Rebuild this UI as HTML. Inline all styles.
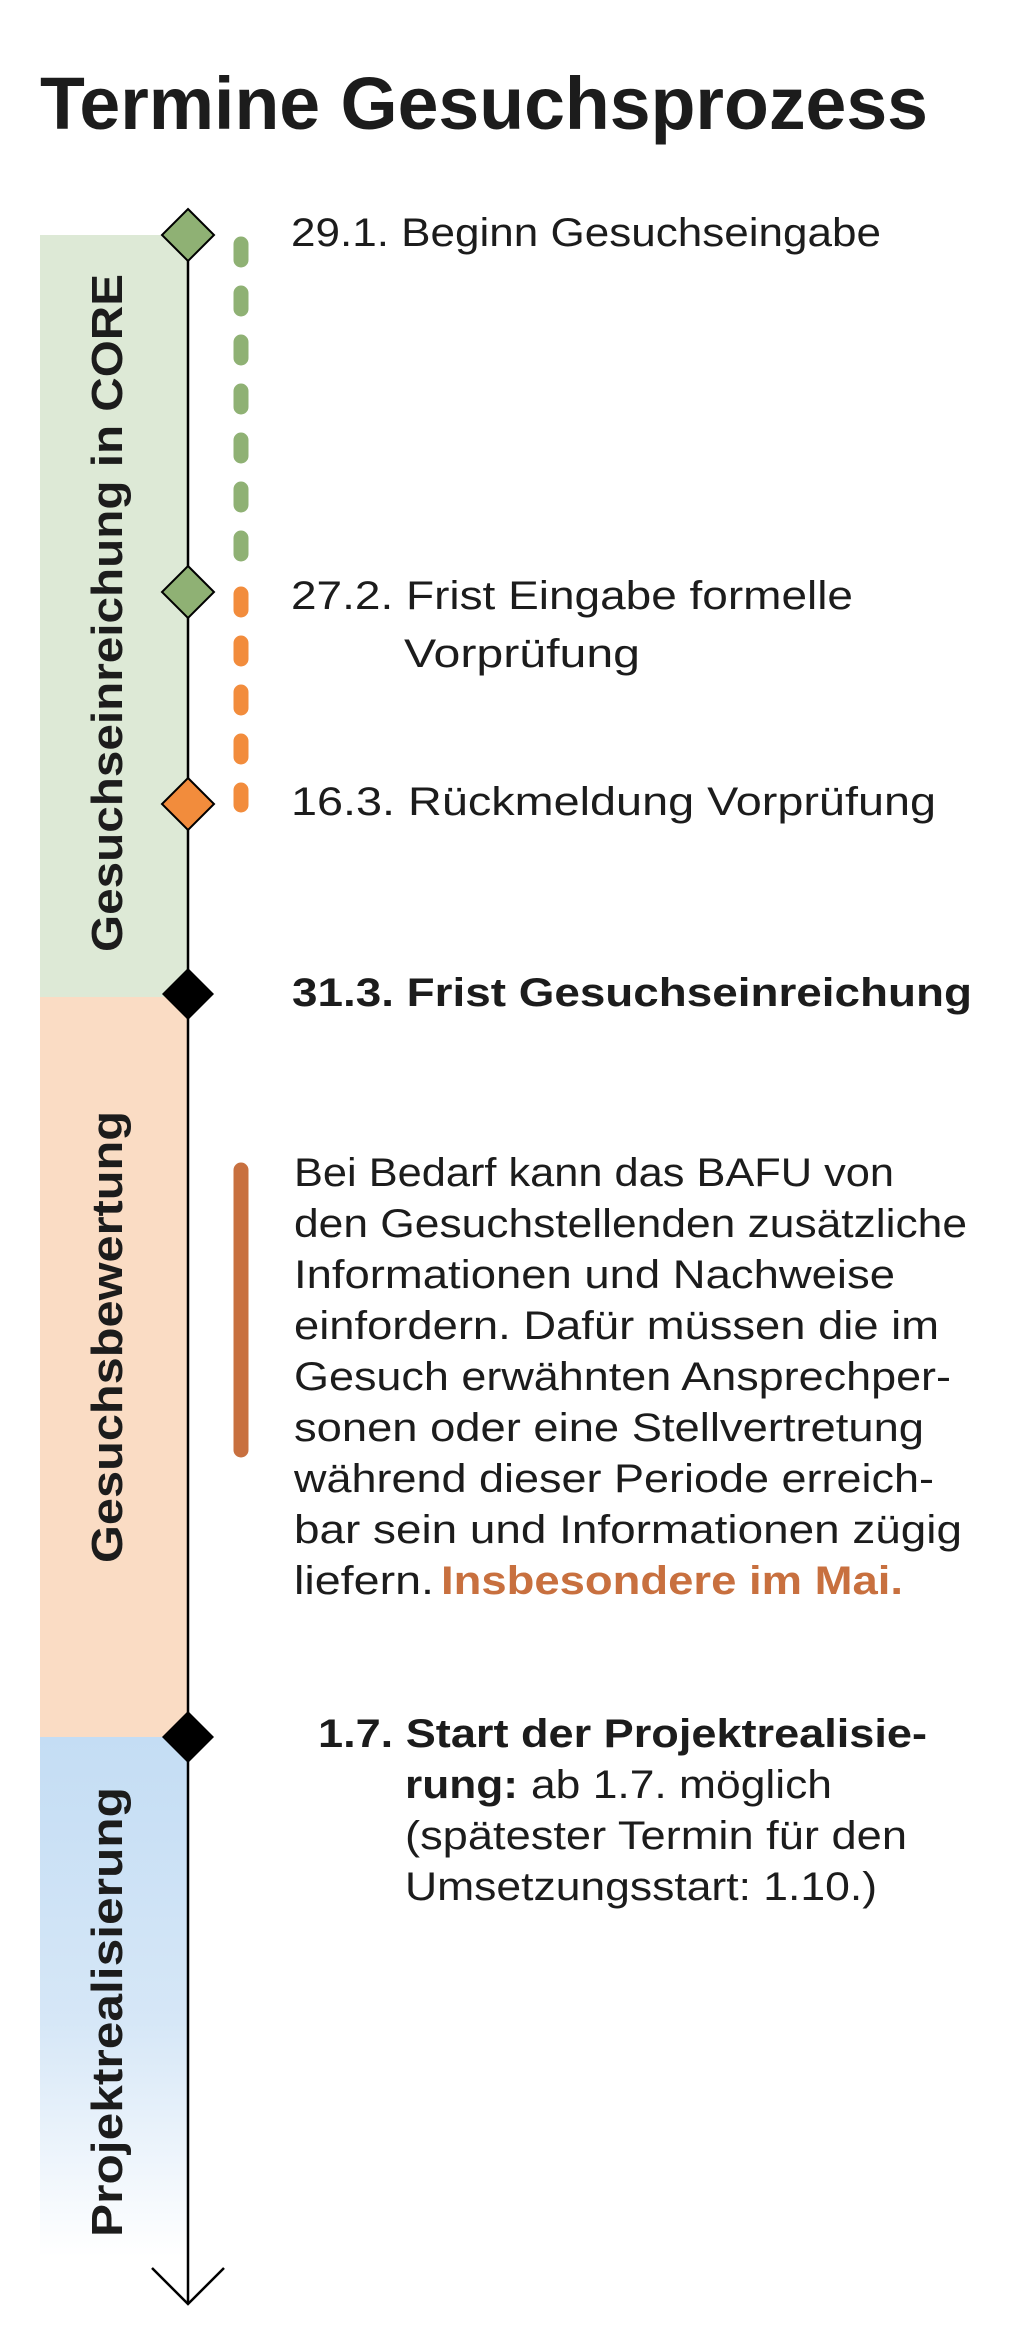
<!DOCTYPE html>
<html><head><meta charset="utf-8"><style>
html,body{margin:0;padding:0;background:#fff}
svg{display:block}
text{font-family:"Liberation Sans","DejaVu Sans",sans-serif;fill:#1c1c1c}
</style></head><body>
<svg width="1024" height="2339" viewBox="0 0 1024 2339" xmlns="http://www.w3.org/2000/svg">
<defs>
<linearGradient id="bl" x1="0" y1="0" x2="0" y2="1">
<stop offset="0" stop-color="#c4ddf4"/><stop offset="0.55" stop-color="#d6e7f7"/><stop offset="1" stop-color="#ffffff"/>
</linearGradient>
</defs>
<text x="40" y="129" font-size="74" font-weight="bold" textLength="888" lengthAdjust="spacingAndGlyphs">Termine Gesuchsprozess</text>

<rect x="40" y="235" width="148" height="762" fill="#dde9d6"/>
<rect x="40" y="997" width="148" height="740" fill="#fadcc4"/>
<rect x="40" y="1737" width="148" height="520" fill="url(#bl)"/>

<line x1="188" y1="235" x2="188" y2="2303" stroke="#000" stroke-width="2.5"/>
<polyline points="152,2268 188,2304 224,2268" fill="none" stroke="#000" stroke-width="2.5"/>

<line x1="241" y1="244" x2="241" y2="586" stroke="#8fb174" stroke-width="15" stroke-linecap="round" stroke-dasharray="16 33"/>
<line x1="241" y1="594" x2="241" y2="805" stroke="#f28c3c" stroke-width="15" stroke-linecap="round" stroke-dasharray="16 33"/>
<line x1="241" y1="1170" x2="241" y2="1450" stroke="#c8703f" stroke-width="15" stroke-linecap="round"/>

<polygon points="188,209 214,235 188,261 162,235" fill="#8fb174" stroke="#000" stroke-width="2"/>
<polygon points="188,566 214,592 188,618 162,592" fill="#8fb174" stroke="#000" stroke-width="2"/>
<polygon points="188,778 214,804 188,830 162,804" fill="#f28c3c" stroke="#000" stroke-width="2"/>
<polygon points="188,968 214,994 188,1020 162,994" fill="#000"/>
<polygon points="188,1711 214,1737 188,1763 162,1737" fill="#000"/>

<text transform="translate(122,952) rotate(-90)" font-size="44" font-weight="bold" textLength="678" lengthAdjust="spacingAndGlyphs">Gesuchseinreichung in CORE</text>
<text transform="translate(122,1563) rotate(-90)" font-size="44" font-weight="bold" textLength="452" lengthAdjust="spacingAndGlyphs">Gesuchsbewertung</text>
<text transform="translate(122,2237) rotate(-90)" font-size="44" font-weight="bold" textLength="450" lengthAdjust="spacingAndGlyphs">Projektrealisierung</text>

<g font-size="40" style="font-weight:300">
<text x="291" y="246" textLength="590" lengthAdjust="spacingAndGlyphs">29.1. Beginn Gesuchseingabe</text>
<text x="291" y="609" textLength="562" lengthAdjust="spacingAndGlyphs">27.2. Frist Eingabe formelle</text>
<text x="404" y="667" textLength="236" lengthAdjust="spacingAndGlyphs">Vorprüfung</text>
<text x="291" y="815" textLength="645" lengthAdjust="spacingAndGlyphs">16.3. Rückmeldung Vorprüfung</text>
</g>
<text x="292" y="1006" font-size="40" font-weight="bold" textLength="680" lengthAdjust="spacingAndGlyphs">31.3. Frist Gesuchseinreichung</text>

<g font-size="40">
<text x="294" y="1186" textLength="600" lengthAdjust="spacingAndGlyphs">Bei Bedarf kann das BAFU von</text>
<text x="294" y="1237" textLength="673" lengthAdjust="spacingAndGlyphs">den Gesuchstellenden zusätzliche</text>
<text x="294" y="1288" textLength="601" lengthAdjust="spacingAndGlyphs">Informationen und Nachweise</text>
<text x="294" y="1339" textLength="645" lengthAdjust="spacingAndGlyphs">einfordern. Dafür müssen die im</text>
<text x="294" y="1390" textLength="657" lengthAdjust="spacingAndGlyphs">Gesuch erwähnten Ansprechper-</text>
<text x="294" y="1441" textLength="630" lengthAdjust="spacingAndGlyphs">sonen oder eine Stellvertretung</text>
<text x="294" y="1492" textLength="640" lengthAdjust="spacingAndGlyphs">während dieser Periode erreich-</text>
<text x="294" y="1543" textLength="668" lengthAdjust="spacingAndGlyphs">bar sein und Informationen zügig</text>
<text x="294" y="1594"><tspan textLength="140" lengthAdjust="spacingAndGlyphs">liefern.</tspan><tspan x="441" font-weight="bold" style="fill:#c8703f" textLength="462" lengthAdjust="spacingAndGlyphs">Insbesondere im Mai.</tspan></text>

<text x="318" y="1747" font-weight="bold" textLength="609" lengthAdjust="spacingAndGlyphs">1.7. Start der Projektrealisie-</text>
<text x="405" y="1798"><tspan font-weight="bold" textLength="113" lengthAdjust="spacingAndGlyphs">rung:</tspan><tspan x="531" textLength="301" lengthAdjust="spacingAndGlyphs">ab 1.7. möglich</tspan></text>
<text x="405" y="1849" textLength="502" lengthAdjust="spacingAndGlyphs">(spätester Termin für den</text>
<text x="405" y="1900" textLength="472" lengthAdjust="spacingAndGlyphs">Umsetzungsstart: 1.10.)</text>
</g>
</svg>
</body></html>
